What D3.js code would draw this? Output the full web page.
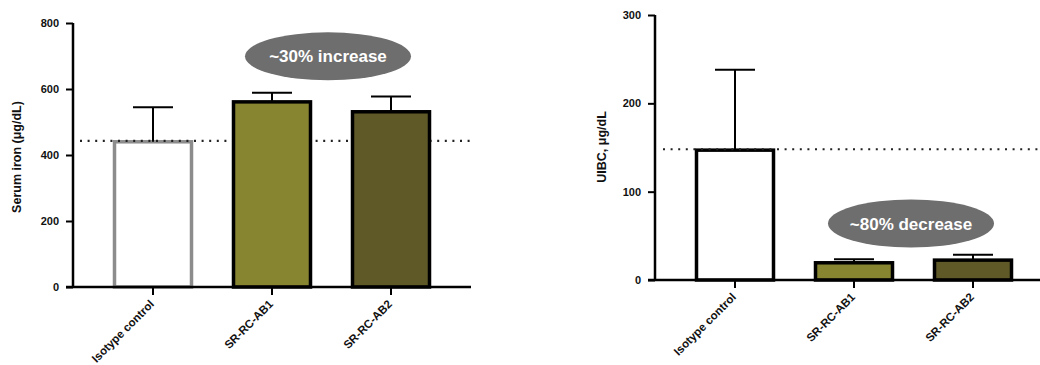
<!DOCTYPE html>
<html>
<head>
<meta charset="utf-8">
<script src="https://cdn.jsdelivr.net/npm/d3@7/dist/d3.min.js"></script>
<style>
  html, body { margin: 0; padding: 0; background: #fff; }
  svg { display: block; font-family: "Liberation Sans", Arial, Helvetica, sans-serif; }
</style>
</head>
<body>
<svg id="chart" width="1040" height="365"></svg>
<script>
// ---- Data ----
const categories = ["Isotype control", "SR-RC-AB1", "SR-RC-AB2"];
const ironMeans = [440, 561, 531];
const ironErrTop = [545, 589, 577];
const ironBaseline = 443;
const ironTicks = [0, 200, 400, 600, 800];
const ironLabel = "Serum iron (\u03bcg/dL)";
const ironNote = "~30% increase";

const uibcMeans = [147, 19.5, 22.5];
const uibcErrTop = [238, 23.5, 28.5];
const uibcBaseline = 148;
const uibcTicks = [0, 100, 200, 300];
const uibcLabel = "UIBC, \u03bcg/dL";
const uibcNote = "~80% decrease";

const fills = ["#ffffff", "#878530", "#5f5927"];

const svg = d3.select("#chart");

function panel(cfg) {
  const g = svg.append("g");
  const y = d3.scaleLinear().domain(cfg.domain).range([cfg.y0, cfg.y1]);
  const x = d3.scalePoint().domain(categories).range(cfg.xr);
  const bw = 77;
  const rows = categories.map((c, i) => ({ c, i, m: cfg.means[i], e: cfg.errTop[i] }));

  function drawBars(sel) {
    sel.attr("x", d => x(d.c) - bw / 2)
      .attr("y", d => y(d.m))
      .attr("width", bw)
      .attr("height", d => y(0) - y(d.m))
      .attr("fill", d => fills[d.i])
      .attr("stroke", d => d.i === 0 ? cfg.firstStroke : "#000")
      .attr("stroke-width", 3.5);
  }

  // control bar (open), then dotted baseline, then filled bars on top
  g.selectAll("rect.ctl").data(rows.slice(0, 1)).join("rect").attr("class", "ctl").call(drawBars);

  // error bars
  g.selectAll("line.err").data(rows).join("line").attr("class", "err")
    .attr("x1", d => x(d.c)).attr("x2", d => x(d.c))
    .attr("y1", d => y(d.m))
    .attr("y2", d => y(d.e))
    .attr("stroke", "#000").attr("stroke-width", 2);
  g.selectAll("line.cap").data(rows).join("line").attr("class", "cap")
    .attr("x1", d => x(d.c) - 20).attr("x2", d => x(d.c) + 20)
    .attr("y1", d => y(d.e))
    .attr("y2", d => y(d.e))
    .attr("stroke", "#000").attr("stroke-width", 2);

  g.append("line")
    .attr("x1", cfg.dotX[0]).attr("x2", cfg.dotX[1])
    .attr("y1", y(cfg.baseline)).attr("y2", y(cfg.baseline))
    .attr("stroke", "#222").attr("stroke-width", 2.2)
    .attr("stroke-dasharray", "2,5.6");

  g.selectAll("rect.trt").data(rows.slice(1)).join("rect").attr("class", "trt").call(drawBars);

  // y axis
  const yAxis = d3.axisLeft(y).tickValues(cfg.ticks).tickSize(7).tickPadding(7).tickFormat(d3.format("d"));
  const ya = g.append("g").attr("transform", `translate(${cfg.axisX},0)`).call(yAxis);
  ya.select(".domain").attr("stroke", "#000").attr("stroke-width", 2.5).attr("d", `M0,${cfg.y0 + 1}V${cfg.y1}`);
  ya.selectAll(".tick line").attr("stroke", "#000").attr("stroke-width", 2);
  ya.selectAll(".tick text").attr("font-size", 11).attr("font-weight", "bold").attr("fill", "#111");

  // x axis line
  g.append("line")
    .attr("x1", cfg.axisX - 7).attr("x2", cfg.xEnd)
    .attr("y1", y(0)).attr("y2", y(0))
    .attr("stroke", "#000").attr("stroke-width", 2.5);
  // x ticks
  g.selectAll("line.xt").data(categories).join("line").attr("class", "xt")
    .attr("x1", d => x(d)).attr("x2", d => x(d))
    .attr("y1", y(0)).attr("y2", y(0) + 8)
    .attr("stroke", "#000").attr("stroke-width", 2);
  // x labels
  g.selectAll("text.xl").data(categories).join("text").attr("class", "xl")
    .attr("transform", d => `translate(${x(d) - 1},${y(0) + 15}) rotate(-45)`)
    .attr("text-anchor", "end")
    .attr("dy", "0.35em")
    .attr("font-size", 11.5).attr("font-weight", "bold").attr("fill", "#111")
    .text(d => d);

  // y label
  g.append("text")
    .attr("transform", `translate(${cfg.labelX},${cfg.labelY}) rotate(-90)`)
    .attr("text-anchor", "middle").attr("dy", "0.35em")
    .attr("font-size", 12.5).attr("font-weight", "bold").attr("fill", "#111")
    .text(cfg.label);

  // annotation ellipse
  g.append("ellipse")
    .attr("cx", cfg.note.cx).attr("cy", y(cfg.note.v))
    .attr("rx", 83).attr("ry", 24)
    .attr("fill", "#6e6e6e");
  g.append("text")
    .attr("x", cfg.note.cx).attr("y", y(cfg.note.v))
    .attr("text-anchor", "middle").attr("dy", "0.36em")
    .attr("font-size", 17).attr("font-weight", "bold").attr("fill", "#fff")
    .text(cfg.note.text);
}

panel({
  domain: [0, 800], y0: 287, y1: 23, xr: [153, 391], axisX: 73, xEnd: 471,
  means: ironMeans, errTop: ironErrTop, baseline: ironBaseline, ticks: ironTicks,
  dotX: [80, 471], firstStroke: "#8c8c8c", label: ironLabel, labelX: 17, labelY: 157,
  note: { cx: 328, v: 699, text: ironNote }
});

panel({
  domain: [0, 300], y0: 280, y1: 15, xr: [735, 973], axisX: 655, xEnd: 1040,
  means: uibcMeans, errTop: uibcErrTop, baseline: uibcBaseline, ticks: uibcTicks,
  dotX: [663, 1040], firstStroke: "#000", label: uibcLabel, labelX: 602, labelY: 147,
  note: { cx: 911, v: 64, text: uibcNote }
});
</script>
</body>
</html>
